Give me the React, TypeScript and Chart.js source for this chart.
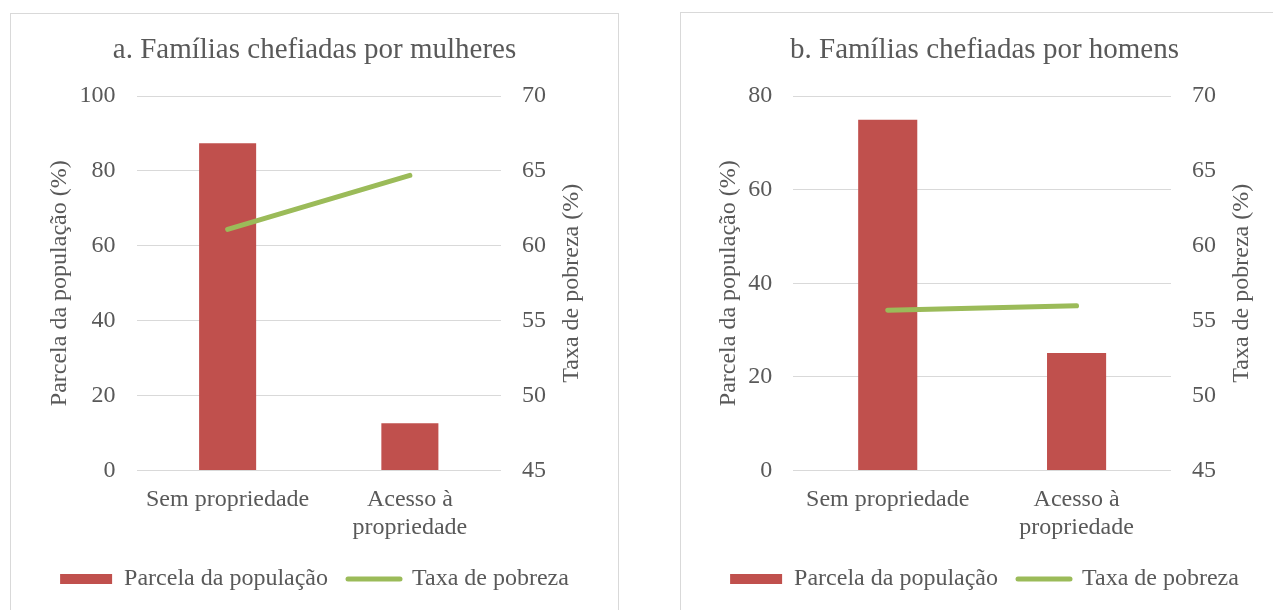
import React, { useEffect, useRef } from "react";
import { Chart, registerables } from "chart.js";

Chart.register(...registerables);

// ---- Data ----
const categories: (string | string[])[] = ["Sem propriedade", ["Acesso à", "propriedade"]];
const womenShare = [87.4, 12.6];
const womenPoverty = [61.1, 64.7];
const menShare = [74.9, 25.1];
const menPoverty = [55.7, 56.0];

const womenTitle = "a. Famílias chefiadas por mulheres";
const menTitle = "b. Famílias chefiadas por homens";
const shareLabel = "Parcela da população";
const povertyLabel = "Taxa de pobreza";
const shareAxisTitle = "Parcela da população (%)";
const povertyAxisTitle = "Taxa de pobreza (%)";

const womenShareAxis = { min: 0, max: 100, step: 20 };
const menShareAxis = { min: 0, max: 80, step: 20 };
const povertyAxis = { min: 45, max: 70, step: 5 };

// ---- Styles ----
const FONT = "'Liberation Serif', 'Times New Roman', serif";
const TEXT = "#595959";
const GRID = "#d9d9d9";
const RED = "#c0504d";
const GREEN = "#9bbb59";

const rightTitlePlugin = {
  id: "rightAxisTitle",
  afterDraw(chart: any, _args: any, opts: any) {
    const s = chart.scales.y1;
    if (!s || !opts || !opts.text) return;
    const ctx = chart.ctx;
    ctx.save();
    ctx.translate(s.left + opts.offset, (s.top + s.bottom) / 2);
    ctx.rotate(-Math.PI / 2);
    ctx.font = `24px ${FONT}`;
    ctx.fillStyle = TEXT;
    ctx.textAlign = "center";
    ctx.textBaseline = "middle";
    ctx.fillText(opts.text, 0, 0);
    ctx.restore();
  },
};

type PanelProps = {
  title: string;
  share: number[];
  poverty: number[];
  shareAxis: { min: number; max: number; step: number };
  leftWidth: number;
  leftTitleCenter: number;
};

function Panel({ title, share, poverty, shareAxis, leftWidth, leftTitleCenter }: PanelProps) {
  const ref = useRef<HTMLCanvasElement | null>(null);
  useEffect(() => {
    if (!ref.current) return;
    const tickFont = { family: FONT, size: 24, lineHeight: 1.1667 };
    const chart = new Chart(ref.current, {
      type: "bar",
      data: {
        labels: categories as any,
        datasets: [
          {
            type: "line",
            label: povertyLabel,
            data: poverty,
            yAxisID: "y1",
            borderColor: GREEN,
            backgroundColor: GREEN,
            borderWidth: 5,
            borderCapStyle: "round",
            pointRadius: 0,
            pointHoverRadius: 0,
            order: 0,
          } as any,
          {
            type: "bar",
            label: shareLabel,
            data: share,
            yAxisID: "y",
            backgroundColor: RED,
            borderWidth: 0,
            barPercentage: 0.313,
            categoryPercentage: 1,
            order: 1,
          } as any,
        ],
      },
      options: {
        responsive: false,
        animation: false,
        layout: { padding: { left: 0, right: 0, top: 0, bottom: 9 } },
        plugins: {
          tooltip: { enabled: false },
          title: {
            display: true,
            text: title,
            color: TEXT,
            font: { family: FONT, size: 29, weight: "normal", lineHeight: 1.2 },
            padding: { top: 18.6, bottom: 28.6 },
          },
          legend: {
            position: "bottom",
            labels: {
              color: TEXT,
              font: { family: FONT, size: 24 },
              usePointStyle: true,
              pointStyleWidth: 52,
              boxWidth: 52,
              boxHeight: 10,
              padding: 20,
              generateLabels: () => [
                {
                  text: shareLabel,
                  fillStyle: RED,
                  strokeStyle: RED,
                  lineWidth: 0,
                  pointStyle: "rect",
                  fontColor: TEXT,
                  hidden: false,
                  datasetIndex: 1,
                },
                {
                  text: povertyLabel,
                  fillStyle: GREEN,
                  strokeStyle: GREEN,
                  lineWidth: 5,
                  lineCap: "round",
                  pointStyle: "line",
                  fontColor: TEXT,
                  hidden: false,
                  datasetIndex: 0,
                },
              ],
            },
          },
          rightAxisTitle: { text: povertyAxisTitle, offset: 71 },
        } as any,
        scales: {
          x: {
            grid: { display: false, drawTicks: false },
            border: { display: false },
            ticks: { color: TEXT, font: tickFont, padding: 15.5, maxRotation: 0, autoSkip: false },
            afterFit: (s: any) => {
              s.height = 76.5;
            },
          },
          y: {
            position: "left",
            min: shareAxis.min,
            max: shareAxis.max,
            grid: { color: GRID, lineWidth: 1, drawTicks: false },
            border: { display: false },
            ticks: { stepSize: shareAxis.step, color: TEXT, font: tickFont, padding: 21 },
            title: {
              display: true,
              text: shareAxisTitle,
              color: TEXT,
              font: { family: FONT, size: 24, lineHeight: 1.2 },
              padding: { top: leftTitleCenter - 14.4, bottom: 0 },
            },
            afterFit: (s: any) => {
              s.width = leftWidth;
            },
          },
          y1: {
            position: "right",
            min: povertyAxis.min,
            max: povertyAxis.max,
            grid: { display: false, drawTicks: false },
            border: { display: false },
            ticks: { stepSize: povertyAxis.step, color: TEXT, font: tickFont, padding: 21 },
            afterFit: (s: any) => {
              s.width = 117;
            },
          },
        },
      } as any,
      plugins: [rightTitlePlugin],
    });
    return () => chart.destroy();
  }, []);
  return <canvas ref={ref} width={607} height={596} style={{ display: "block" }} />;
}

export default function App() {
  return (
    <div
      style={{
        position: "fixed",
        left: 0,
        top: 0,
        width: 1273,
        height: 610,
        overflow: "hidden",
        background: "#ffffff",
      }}
    >
      <div
        style={{
          position: "absolute",
          left: 10,
          top: 13,
          width: 609,
          height: 700,
          border: `1px solid ${GRID}`,
          boxSizing: "border-box",
        }}
      />
      <div
        style={{
          position: "absolute",
          left: 680,
          top: 12,
          width: 609,
          height: 700,
          border: `1px solid ${GRID}`,
          boxSizing: "border-box",
        }}
      />
      <div style={{ position: "absolute", left: 11, top: 14 }}>
        <Panel
          title={womenTitle}
          share={womenShare}
          poverty={womenPoverty}
          shareAxis={womenShareAxis}
          leftWidth={125.5}
          leftTitleCenter={49}
        />
      </div>
      <div style={{ position: "absolute", left: 681, top: 14 }}>
        <Panel
          title={menTitle}
          share={menShare}
          poverty={menPoverty}
          shareAxis={menShareAxis}
          leftWidth={112.3}
          leftTitleCenter={48}
        />
      </div>
    </div>
  );
}
